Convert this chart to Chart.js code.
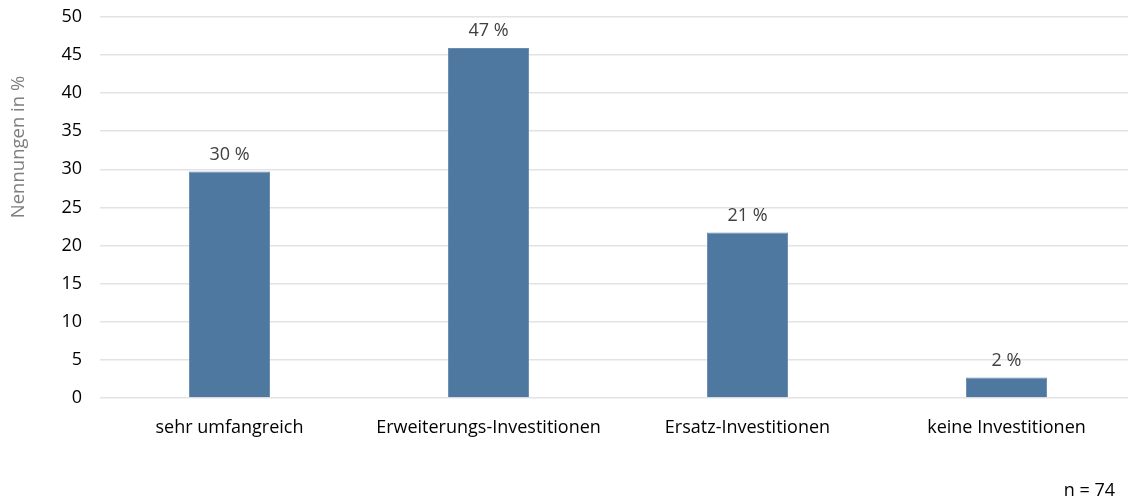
<!DOCTYPE html>
<html>
<head>
<meta charset="utf-8">
<script src="https://cdn.jsdelivr.net/npm/chart.js@4/dist/chart.umd.min.js"></script>
<style>
  html, body { margin: 0; padding: 0; background: #fff; overflow: hidden; }
  #wrap { width: 1128px; height: 501px; overflow: hidden; }
  #box { width: 1136px; height: 513px; margin-top: -12px; }
</style>
</head>
<body>
<div id="wrap"><div id="box"><canvas id="chart"></canvas></div></div>
<script>
const categories = ["sehr umfangreich", "Erweiterungs-Investitionen", "Ersatz-Investitionen", "keine Investitionen"];
const values = [29.7, 45.9, 21.7, 2.7];
const valueLabels = ["30 %", "47 %", "21 %", "2 %"];
const yTicks = [0, 5, 10, 15, 20, 25, 30, 35, 40, 45, 50];
const yTitle = "Nennungen in %";
const footnote = "n = 74";

const FONT = "'Open Sans', sans-serif";

// canvas is shifted up by 12px inside the page
const extras = {
  id: "extras",
  afterDatasetsDraw(chart) {
    const ctx = chart.ctx;
    const meta = chart.getDatasetMeta(0);
    ctx.save();
    ctx.font = "18px " + FONT;
    ctx.fillStyle = "#404040";
    ctx.textAlign = "center";
    ctx.textBaseline = "middle";
    meta.data.forEach((bar, i) => ctx.fillText(valueLabels[i], bar.x, bar.y - 17));

    ctx.font = "18.5px " + FONT;
    ctx.fillStyle = "#7f7f7f";
    ctx.translate(19, 159);
    ctx.rotate(-Math.PI / 2);
    ctx.fillText(yTitle, 0, 0);
    ctx.restore();

    ctx.save();
    ctx.font = "18px " + FONT;
    ctx.fillStyle = "#000";
    ctx.textAlign = "right";
    ctx.textBaseline = "middle";
    ctx.fillText(footnote, 1115, 503);
    ctx.restore();
  }
};

new Chart(document.getElementById("chart"), {
  type: "bar",
  data: {
    labels: categories,
    datasets: [{
      data: values,
      backgroundColor: "#4e78a0",
      borderColor: "#6a8db0",
      borderWidth: 1,
      categoryPercentage: 1,
      barPercentage: 0.313
    }]
  },
  options: {
    responsive: true,
    maintainAspectRatio: false,
    animation: false,
    layout: { padding: 0 },
    plugins: { legend: { display: false }, tooltip: { enabled: false } },
    scales: {
      x: {
        grid: { display: false, drawTicks: false },
        border: { display: false },
        ticks: { color: "#000", font: { family: FONT, size: 18 }, padding: 19, maxRotation: 0 },
        afterFit: s => { s.height = 103; }
      },
      y: {
        min: 0,
        max: 50,
        afterBuildTicks: s => { s.ticks = yTicks.map(v => ({ value: v })); },
        grid: { color: "#e3e3e3", lineWidth: 1.5, drawTicks: false },
        border: { display: false },
        ticks: { color: "#000", font: { family: FONT, size: 18 }, padding: 18 },
        afterFit: s => { s.width = 100; }
      }
    }
  },
  plugins: [extras]
});
</script>
</body>
</html>
